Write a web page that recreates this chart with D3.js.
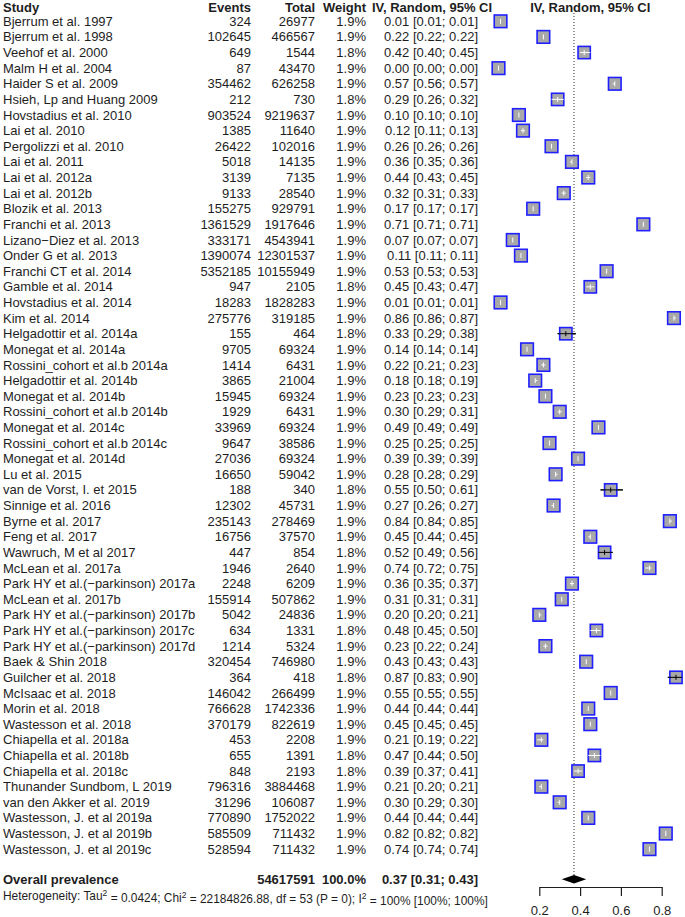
<!DOCTYPE html>
<html><head><meta charset="utf-8">
<script src="https://cdn.jsdelivr.net/npm/d3@7/dist/d3.min.js"></script>
<style>
html,body{margin:0;padding:0;background:#fff;}
svg{display:block;font-family:"Liberation Sans",Arial,sans-serif;}
</style></head>
<body><svg id="c" width="685" height="917"></svg>
<script>
const studies = ["Bjerrum et al. 1997","Bjerrum et al. 1998","Veehof et al. 2000","Malm H et al. 2004","Haider S et al. 2009","Hsieh, Lp and Huang 2009","Hovstadius et al. 2010","Lai et al. 2010","Pergolizzi et al. 2010","Lai et al. 2011","Lai et al. 2012a","Lai et al. 2012b","Blozik et al. 2013","Franchi et al. 2013","Lizano\u2212Diez et al. 2013","Onder G et al. 2013","Franchi CT et al. 2014","Gamble et al. 2014","Hovstadius et al. 2014","Kim et al. 2014","Helgadottir et al. 2014a","Monegat et al. 2014a","Rossini_cohort et al.b 2014a","Helgadottir et al. 2014b","Monegat et al. 2014b","Rossini_cohort et al.b 2014b","Monegat et al. 2014c","Rossini_cohort et al.b 2014c","Monegat et al. 2014d","Lu et al. 2015","van de Vorst, I. et 2015","Sinnige et al. 2016","Byrne et al. 2017","Feng et al. 2017","Wawruch, M et al 2017","McLean et al. 2017a","Park HY et al.(\u2212parkinson) 2017a","McLean et al. 2017b","Park HY et al.(\u2212parkinson) 2017b","Park HY et al.(\u2212parkinson) 2017c","Park HY et al.(\u2212parkinson) 2017d","Baek & Shin 2018","Guilcher et al. 2018","McIsaac et al. 2018","Morin et al. 2018","Wastesson et al. 2018","Chiapella et al. 2018a","Chiapella et al. 2018b","Chiapella et al. 2018c","Thunander Sundbom, L 2019","van den Akker et al. 2019","Wastesson, J. et al 2019a","Wastesson, J. et al 2019b","Wastesson, J. et al 2019c"];
const events = [324,102645,649,87,354462,212,903524,1385,26422,5018,3139,9133,155275,1361529,333171,1390074,5352185,947,18283,275776,155,9705,1414,3865,15945,1929,33969,9647,27036,16650,188,12302,235143,16756,447,1946,2248,155914,5042,634,1214,320454,364,146042,766628,370179,453,655,848,796316,31296,770890,585509,528594];
const totals = [26977,466567,1544,43470,626258,730,9219637,11640,102016,14135,7135,28540,929791,1917646,4543941,12301537,10155949,2105,1828283,319185,464,69324,6431,21004,69324,6431,69324,38586,69324,59042,340,45731,278469,37570,854,2640,6209,507862,24836,1331,5324,746980,418,266499,1742336,822619,2208,1391,2193,3884468,106087,1752022,711432,711432];
const weights = [1.9,1.9,1.8,1.9,1.9,1.8,1.9,1.9,1.9,1.9,1.9,1.9,1.9,1.9,1.9,1.9,1.9,1.8,1.9,1.9,1.8,1.9,1.9,1.9,1.9,1.9,1.9,1.9,1.9,1.9,1.8,1.9,1.9,1.9,1.8,1.9,1.9,1.9,1.9,1.8,1.9,1.9,1.8,1.9,1.9,1.9,1.9,1.8,1.8,1.9,1.9,1.9,1.9,1.9];
const est = [0.01,0.22,0.42,0.00,0.57,0.29,0.10,0.12,0.26,0.36,0.44,0.32,0.17,0.71,0.07,0.11,0.53,0.45,0.01,0.86,0.33,0.14,0.22,0.18,0.23,0.30,0.49,0.25,0.39,0.28,0.55,0.27,0.84,0.45,0.52,0.74,0.36,0.31,0.20,0.48,0.23,0.43,0.87,0.55,0.44,0.45,0.21,0.47,0.39,0.21,0.30,0.44,0.82,0.74];
const lower = [0.01,0.22,0.40,0.00,0.56,0.26,0.10,0.11,0.26,0.35,0.43,0.31,0.17,0.71,0.07,0.11,0.53,0.43,0.01,0.86,0.29,0.14,0.21,0.18,0.23,0.29,0.49,0.25,0.39,0.28,0.50,0.26,0.84,0.44,0.49,0.72,0.35,0.31,0.20,0.45,0.22,0.43,0.83,0.55,0.44,0.45,0.19,0.44,0.37,0.20,0.29,0.44,0.82,0.74];
const upper = [0.01,0.22,0.45,0.00,0.57,0.32,0.10,0.13,0.26,0.36,0.45,0.33,0.17,0.71,0.07,0.11,0.53,0.47,0.01,0.87,0.38,0.14,0.23,0.19,0.23,0.31,0.49,0.25,0.39,0.29,0.61,0.27,0.85,0.45,0.56,0.75,0.37,0.31,0.21,0.50,0.24,0.43,0.90,0.55,0.44,0.45,0.22,0.50,0.41,0.21,0.30,0.44,0.82,0.74];
const overall = {label:"Overall prevalence", total:54617591, weight:"100.0%", est:0.37, lower:0.31, upper:0.43};
const hetero = {tau2:"0.0424", chi2:"22184826.88", df:53, p:"0", i2:"100% [100%; 100%]"};
const tickVals = [0.2,0.4,0.6,0.8];

const svg = d3.select("#c");
const ink = "#1e1e1e";
const fs = 13;
const f2 = d3.format(".2f");
const rowY = d3.scaleLinear().domain([0,1]).range([21.3, 21.3+15.62]);
const x = d3.scaleLinear().domain([0,1]).range([498.5, 702.5]);

const data = studies.map((s,i)=>({s, ev:events[i], tot:totals[i], w:weights[i], est:est[i], lo:lower[i], hi:upper[i], i}));

// header
const hy = 7.2;
const hdr = svg.append("g").attr("font-weight","bold").attr("font-size",fs).attr("fill",ink);
hdr.append("text").attr("x",3).attr("y",hy).attr("dy","0.35em").text("Study");
hdr.append("text").attr("x",251).attr("y",hy).attr("dy","0.35em").attr("text-anchor","end").text("Events");
hdr.append("text").attr("x",315).attr("y",hy).attr("dy","0.35em").attr("text-anchor","end").text("Total");
hdr.append("text").attr("x",366).attr("y",hy).attr("dy","0.35em").attr("text-anchor","end").text("Weight");
hdr.append("text").attr("x",432).attr("y",hy).attr("dy","0.35em").attr("text-anchor","middle").text("IV, Random, 95% CI");
hdr.append("text").attr("x",x(0.45)).attr("y",hy).attr("dy","0.35em").attr("text-anchor","middle").text("IV, Random, 95% CI");

// rows text
const rows = svg.append("g").attr("font-size",fs).attr("fill",ink);
const rg = rows.selectAll("g").data(data).join("g").attr("transform",d=>`translate(0,${rowY(d.i)})`);
rg.append("text").attr("x",3).attr("dy","0.35em").text(d=>d.s);
rg.append("text").attr("x",251).attr("dy","0.35em").attr("text-anchor","end").text(d=>d.ev);
rg.append("text").attr("x",315).attr("dy","0.35em").attr("text-anchor","end").text(d=>d.tot);
rg.append("text").attr("x",366).attr("dy","0.35em").attr("text-anchor","end").text(d=>d.w.toFixed(1)+"%");
rg.append("text").attr("x",478).attr("dy","0.35em").attr("text-anchor","end").text(d=>`${f2(d.est)} [${f2(d.lo)}; ${f2(d.hi)}]`);

// overall row
const oy = 879.3;
const og = svg.append("g").attr("font-size",fs).attr("fill",ink).attr("font-weight","bold");
og.append("text").attr("x",3).attr("y",oy).attr("dy","0.35em").text(overall.label);
og.append("text").attr("x",315).attr("y",oy).attr("dy","0.35em").attr("text-anchor","end").text(overall.total);
og.append("text").attr("x",366).attr("y",oy).attr("dy","0.35em").attr("text-anchor","end").text(overall.weight);
og.append("text").attr("x",478).attr("y",oy).attr("dy","0.35em").attr("text-anchor","end").text(`${f2(overall.est)} [${f2(overall.lower)}; ${f2(overall.upper)}]`);

// heterogeneity
const ht = svg.append("text").attr("x",3).attr("y",896).attr("dy","0.35em").attr("font-size",11.9).attr("fill",ink);
ht.append("tspan").text("Heterogeneity: Tau");
ht.append("tspan").attr("font-size",8.5).attr("dy","-0.45em").text("2");
ht.append("tspan").attr("dy","0.45em").text(` = ${hetero.tau2}; Chi`);
ht.append("tspan").attr("font-size",8.5).attr("dy","-0.45em").text("2");
ht.append("tspan").attr("dy","0.45em").text(` = ${hetero.chi2}, df = ${hetero.df} (P = ${hetero.p}); I`);
ht.append("tspan").attr("font-size",8.5).attr("dy","-0.45em").text("2");
ht.append("tspan").attr("dy","0.45em").text(` = ${hetero.i2}`);

// reference dotted line at overall estimate
svg.append("line").attr("x1",x(overall.est)).attr("x2",x(overall.est))
  .attr("y1",13).attr("y2",oy-4).attr("stroke","#333").attr("stroke-width",1).attr("stroke-dasharray","1,2");

// squares + CI
const sq = 12.6;
const marks = svg.append("g");
const mg = marks.selectAll("g").data(data).join("g").attr("transform",d=>`translate(0,${rowY(d.i)})`);
mg.each(function(d){
  const g = d3.select(this);
  const s = sq*Math.sqrt(d.w/1.9);
  const cx = x(d.est);
  const tol = 0.3;
  const inside = (x(d.lo) >= cx - s/2 - tol) && (x(d.hi) <= cx + s/2 + tol);
  const lc = inside ? "#fff" : "#000";
  if(!inside){
    g.append("line").attr("x1",x(d.lo)).attr("x2",x(d.hi)).attr("y1",0).attr("y2",0).attr("stroke","#000").attr("stroke-width",1);
  }
  g.append("rect").attr("x",cx-s/2).attr("y",-s/2).attr("width",s).attr("height",s)
    .attr("fill","#a8a8a8").attr("stroke","#1f1fff").attr("stroke-width",1.6);
  g.append("line").attr("x1",x(d.lo)).attr("x2",x(d.hi)).attr("y1",0).attr("y2",0).attr("stroke",lc).attr("stroke-width",1);
  g.append("line").attr("x1",cx).attr("x2",cx).attr("y1",-2.5).attr("y2",2.5).attr("stroke",lc).attr("stroke-width",1);
});

// diamond
svg.append("path")
  .attr("d",`M${x(overall.lower)},${oy}L${x(overall.est)},${oy-4.2}L${x(overall.upper)},${oy}L${x(overall.est)},${oy+4.2}Z`)
  .attr("fill","#000");

// axis
const xa = d3.scaleLinear().domain([0.2,0.8]).range([x(0.2),x(0.8)]);
const ax = svg.append("g").attr("transform","translate(0,887)")
  .call(d3.axisBottom(xa).tickValues(tickVals).tickSize(9).tickSizeOuter(0).tickPadding(10).tickFormat(d3.format(".1f")));
ax.select(".domain").attr("stroke",ink).attr("stroke-width",1.2);
ax.selectAll(".tick line").attr("stroke",ink).attr("stroke-width",1.2);
ax.selectAll(".tick text").attr("font-size",fs).attr("fill",ink).attr("font-family","'Liberation Sans',Arial,sans-serif");
</script></body></html>
